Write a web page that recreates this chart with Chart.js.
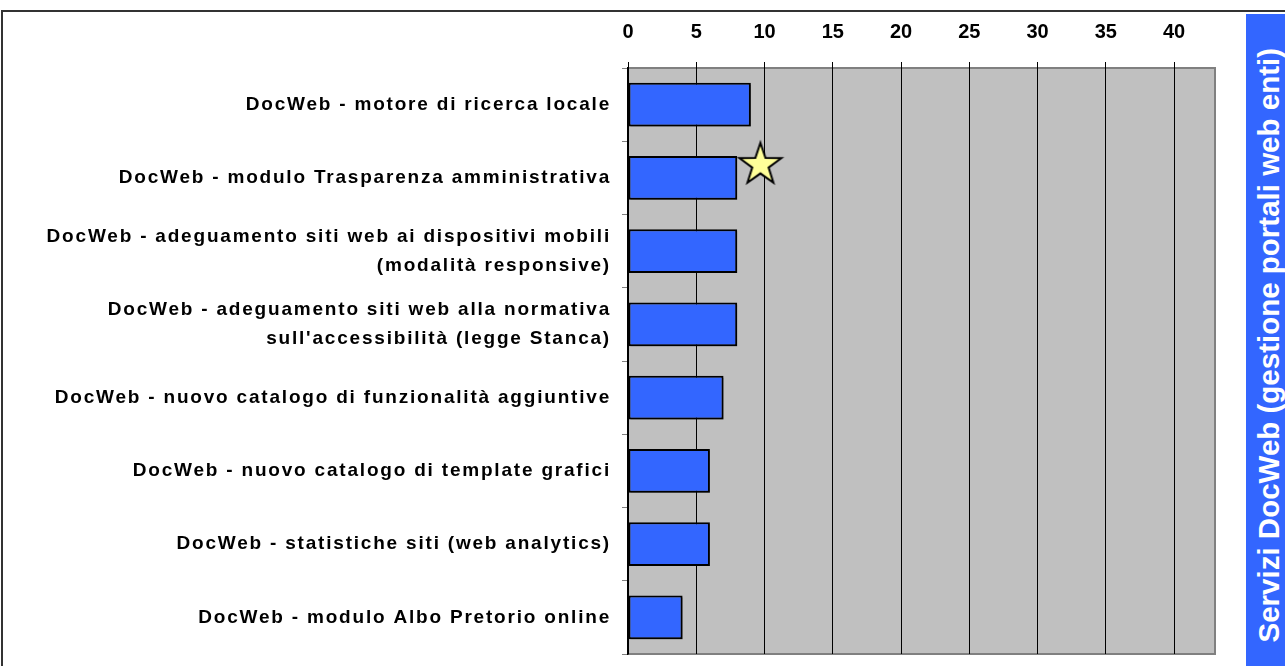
<!DOCTYPE html>
<html>
<head>
<meta charset="utf-8">
<script src="https://cdn.jsdelivr.net/npm/chart.js@4/dist/chart.umd.min.js"></script>
<style>
    body { margin: 0; background: #fff; width: 1285px; height: 666px; overflow: hidden; position: relative; font-family: 'Liberation Sans', Arial, sans-serif; }
    #frame { position: absolute; left: 1px; top: 10px; width: 1290px; height: 700px; border-left: 2px solid #333; border-top: 2px solid #333; }
    #wrap { position: absolute; left: 0; top: 0; width: 1245px; height: 666px; }
    #side { position: absolute; left: 1246px; top: 14px; width: 39px; height: 652px; background: #3366ff; color: #fff; font-weight: bold; font-size: 29.5px; display: flex; align-items: center; justify-content: center; }
    #side span { writing-mode: vertical-rl; transform: rotate(180deg); white-space: nowrap; margin-top: 10px; margin-left: 6px; }
</style>
</head>
<body>
<div id="frame"></div>
<div id="wrap"><canvas id="chart"></canvas></div>
<div id="side"><span>Servizi DocWeb (gestione portali web enti)</span></div>
<script>
/* ---- data ---- */
const categories = [
    'DocWeb - motore di ricerca locale',
    'DocWeb - modulo Trasparenza amministrativa',
    ['DocWeb - adeguamento siti web ai dispositivi mobili', '(modalità responsive)'],
    ['DocWeb - adeguamento siti web alla normativa', "sull'accessibilità (legge Stanca)"],
    'DocWeb - nuovo catalogo di funzionalità aggiuntive',
    'DocWeb - nuovo catalogo di template grafici',
    'DocWeb - statistiche siti (web analytics)',
    'DocWeb - modulo Albo Pretorio online'
];
const values = [9, 8, 8, 8, 7, 6, 6, 4];
const xTicks = [0, 5, 10, 15, 20, 25, 30, 35, 40];
const xMax = 43;
const starValue = [9.7];
const starCategory = ['DocWeb - modulo Trasparenza amministrativa'];

const FAMILY = "'Liberation Sans', Arial, sans-serif";
const LABEL_SPACING = '1.8px';

// star marker (drawn a bit above the category centre)
function starImage() {
    const c = document.createElement('canvas');
    c.width = 50; c.height = 80;
    const g = c.getContext('2d');
    const cx = 25, cy = 27, R = 22, r = 8.6;
    g.beginPath();
    for (let i = 0; i < 10; i++) {
        const a = -Math.PI / 2 + i * Math.PI / 5;
        const rad = i % 2 ? r : R;
        g.lineTo(cx + rad * Math.cos(a), cy + rad * Math.sin(a));
    }
    g.closePath();
    g.fillStyle = '#ffff99'; g.fill();
    g.lineWidth = 2; g.strokeStyle = '#000'; g.stroke();
    return c;
}

/* grey plot area, bar shadow, and wide letter spacing for category labels only */
const plotBg = {
    id: 'plotBg',
    beforeLayout(chart) { chart.ctx.letterSpacing = LABEL_SPACING; },
    beforeDraw(chart) {
        const { ctx, chartArea: a } = chart;
        ctx.letterSpacing = LABEL_SPACING;
        ctx.save();
        ctx.fillStyle = '#c0c0c0';
        ctx.fillRect(a.left, a.top, a.right - a.left, a.bottom - a.top);
        ctx.strokeStyle = '#808080'; ctx.lineWidth = 2;
        ctx.strokeRect(a.left, a.top, a.right - a.left, a.bottom - a.top);
        ctx.restore();
    },
    beforeDatasetDraw(chart, args) {
        if (args.index !== 0) return;
        const ctx = chart.ctx;
        ctx.save();
        ctx.shadowColor = 'rgba(0,0,0,0.35)'; ctx.shadowOffsetX = 2; ctx.shadowOffsetY = 2; ctx.shadowBlur = 0;
    },
    afterDatasetDraw(chart, args) {
        if (args.index === 0) chart.ctx.restore();
    },
    afterDatasetsDraw(chart) { chart.ctx.letterSpacing = '0px'; }
};

new Chart(document.getElementById('chart'), {
    type: 'bar',
    data: {
        labels: categories,
        datasets: [
            { data: values, backgroundColor: '#3366ff', borderColor: '#000', borderWidth: 2, borderSkipped: false,
              barPercentage: 0.6, categoryPercentage: 1 },
            { type: 'scatter', data: starValue.map((v, i) => ({ x: v, y: starCategory[i] })),
              pointStyle: starImage(), pointRadius: 1, borderWidth: 0 }
        ]
    },
    options: {
        indexAxis: 'y',
        responsive: true, maintainAspectRatio: false, animation: false,
        layout: { padding: { top: 12, right: 30, bottom: 12, left: 0 } },
        scales: {
            x: {
                position: 'top', min: 0, max: xMax,
                afterBuildTicks: s => { s.ticks = xTicks.map(v => ({ value: v })); },
                grid: { color: '#000', lineWidth: 1, tickLength: 6 },
                border: { display: false },
                ticks: { color: '#000', font: { family: FAMILY, size: 20, weight: 'bold' }, padding: 18, z: 1 },
                afterFit: s => { s.height = 56; s.paddingLeft = 0; s.paddingRight = 0; }
            },
            y: {
                grid: { offset: true, drawOnChartArea: false, tickLength: 6, color: '#808080' },
                border: { color: '#000', width: 1.5 },
                ticks: { color: '#000', font: { family: FAMILY, size: 19, weight: 'bold', lineHeight: 1.55 }, padding: 11, autoSkip: false },
                afterFit: s => { s.width = 628; s.paddingTop = 0; s.paddingBottom = 0; }
            }
        },
        plugins: { legend: { display: false }, tooltip: { enabled: false } }
    },
    plugins: [plotBg]
});
</script>
</body>
</html>
